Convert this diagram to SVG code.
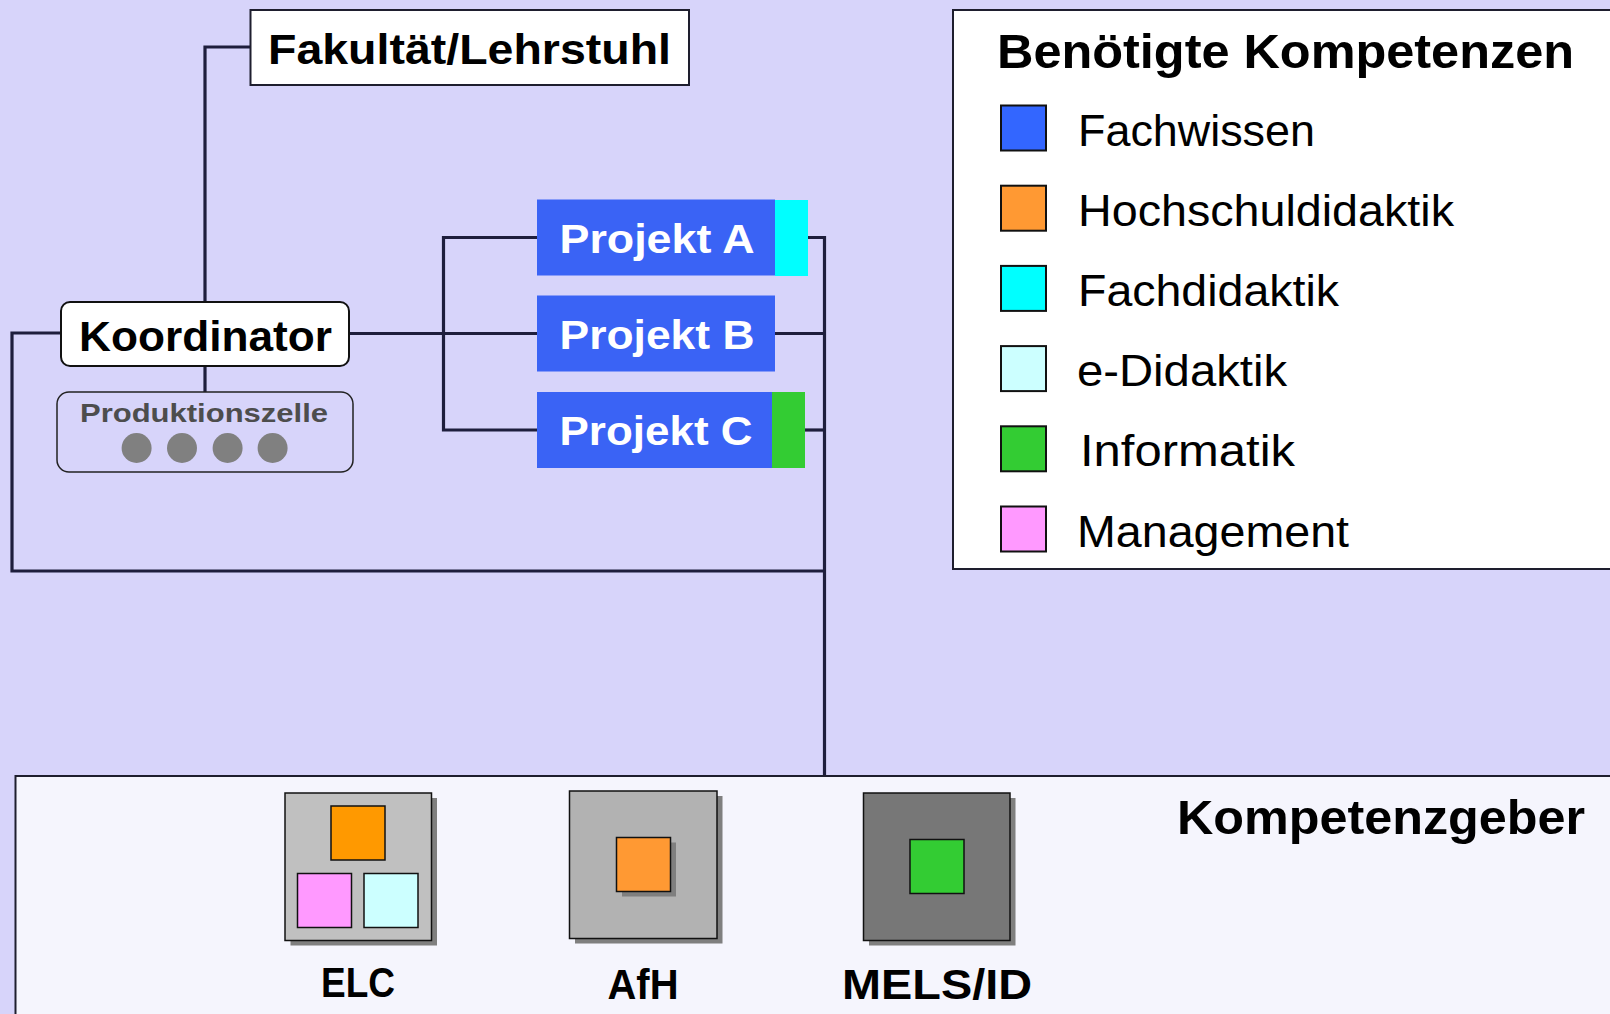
<svg xmlns="http://www.w3.org/2000/svg" width="1610" height="1014" viewBox="0 0 1610 1014">
<defs>
<style>
.bold{font-family:"Liberation Sans",Arial,sans-serif;font-weight:bold;}
.reg{font-family:"Liberation Sans",Arial,sans-serif;}
.conn{fill:none;stroke:#1E1E3C;stroke-width:3.2;}
.proj{fill:#3A63F5;}
.projtxt{fill:#FFFFFF;font-size:41px;}
.sw{stroke:#111;stroke-width:2;}
.lbl{font-size:45px;fill:#000;}
.shadow{fill:#7F7F7F;}
</style>
</defs>
<rect x="0" y="0" width="1610" height="1014" fill="#D7D4FA"/>

<g id="connectors">
<path class="conn" d="M205,302 V47 H251"/>
<path class="conn" d="M205,366 V392"/>
<path class="conn" d="M61,333 H12 V571 H825"/>
<path class="conn" d="M349,333.5 H537"/>
<path class="conn" d="M537,237.5 H443.5 V430 H537"/>
<path class="conn" d="M807,237.5 H824.5 V776"/>
<path class="conn" d="M775,333.5 H824.5"/>
<path class="conn" d="M805,430 H824.5"/>
</g>

<g id="fakultaet">
<rect x="250.5" y="10" width="438.5" height="75" fill="#FFFFFF" stroke="#1E1E2E" stroke-width="2"/>
<text class="bold" x="268" y="64" font-size="43" textLength="403" lengthAdjust="spacingAndGlyphs">Fakultät/Lehrstuhl</text>
</g>

<g id="koordinator">
<rect x="61" y="302" width="288" height="64" rx="9" fill="#FFFFFF" stroke="#111" stroke-width="2"/>
<text class="bold" x="79" y="351" font-size="42" textLength="253" lengthAdjust="spacingAndGlyphs">Koordinator</text>
</g>

<g id="produktionszelle">
<rect x="57" y="392" width="296" height="80" rx="12" fill="#D7D4FA" stroke="#222" stroke-width="1.5"/>
<text class="bold" x="80" y="422" font-size="26" fill="#4D4D4D" textLength="248" lengthAdjust="spacingAndGlyphs">Produktionszelle</text>
<circle cx="136.6" cy="448" r="15" fill="#808080"/>
<circle cx="182" cy="448" r="15" fill="#808080"/>
<circle cx="227.6" cy="448" r="15" fill="#808080"/>
<circle cx="272.6" cy="448" r="15" fill="#808080"/>
</g>

<g id="projektA">
<rect class="proj" x="537" y="199.5" width="238" height="76"/>
<rect x="775" y="200" width="33" height="76" fill="#00FFFF"/>
<text class="bold projtxt" x="559.5" y="252.5" textLength="195" lengthAdjust="spacingAndGlyphs">Projekt A</text>
</g>

<g id="projektB">
<rect class="proj" x="537" y="295.5" width="238" height="76"/>
<text class="bold projtxt" x="559.5" y="348.5" textLength="195" lengthAdjust="spacingAndGlyphs">Projekt B</text>
</g>

<g id="projektC">
<rect class="proj" x="537" y="392" width="238" height="76"/>
<rect x="772" y="392" width="33" height="76" fill="#33CC33"/>
<text class="bold projtxt" x="559.5" y="445" textLength="193" lengthAdjust="spacingAndGlyphs">Projekt C</text>
</g>

<g id="legende">
<rect x="953" y="10" width="700" height="559" fill="#FFFFFF" stroke="#1E1E2E" stroke-width="2"/>
<text class="bold" x="997" y="68" font-size="48" textLength="577" lengthAdjust="spacingAndGlyphs">Benötigte Kompetenzen</text>
<rect class="sw" x="1001" y="105.5" width="45" height="45" fill="#3366FF"/>
<text class="reg lbl" x="1078" y="145.5" textLength="237" lengthAdjust="spacingAndGlyphs">Fachwissen</text>
<rect class="sw" x="1001" y="185.7" width="45" height="45" fill="#FF9933"/>
<text class="reg lbl" x="1078" y="225.7" textLength="376" lengthAdjust="spacingAndGlyphs">Hochschuldidaktik</text>
<rect class="sw" x="1001" y="265.9" width="45" height="45" fill="#00FFFF"/>
<text class="reg lbl" x="1078" y="305.9" textLength="261" lengthAdjust="spacingAndGlyphs">Fachdidaktik</text>
<rect class="sw" x="1001" y="346.1" width="45" height="45" fill="#CCFFFF"/>
<text class="reg lbl" x="1077" y="386.1" textLength="210" lengthAdjust="spacingAndGlyphs">e-Didaktik</text>
<rect class="sw" x="1001" y="426.3" width="45" height="45" fill="#33CC33"/>
<text class="reg lbl" x="1080" y="466.3" textLength="215" lengthAdjust="spacingAndGlyphs">Informatik</text>
<rect class="sw" x="1001" y="506.5" width="45" height="45" fill="#FF99FF"/>
<text class="reg lbl" x="1077" y="546.5" textLength="272" lengthAdjust="spacingAndGlyphs">Management</text>
</g>

<g id="kompetenzgeber">
<rect x="15.5" y="776" width="1640" height="260" fill="#F5F5FD" stroke="#1E1E2E" stroke-width="2"/>
<text class="bold" x="1177" y="834" font-size="49" textLength="408" lengthAdjust="spacingAndGlyphs">Kompetenzgeber</text>
</g>

<g id="elc">
<rect class="shadow" x="290.5" y="798" width="146.5" height="147.5"/>
<rect x="285" y="793" width="146.5" height="147.5" fill="#C0C0C0" stroke="#111" stroke-width="1.5"/>
<rect x="331" y="806" width="54" height="54" fill="#FF9900" stroke="#111" stroke-width="1.5"/>
<rect x="297.5" y="873.5" width="54" height="54" fill="#FF99FF" stroke="#111" stroke-width="1.5"/>
<rect x="364" y="873.5" width="54" height="54" fill="#CCFFFF" stroke="#111" stroke-width="1.5"/>
<text class="bold" x="358" y="997" font-size="42" text-anchor="middle" textLength="74" lengthAdjust="spacingAndGlyphs">ELC</text>
</g>

<g id="afh">
<rect class="shadow" x="575" y="796" width="147.5" height="147.5"/>
<rect x="569.5" y="791" width="147.5" height="147.5" fill="#B2B2B2" stroke="#111" stroke-width="1.5"/>
<rect class="shadow" x="622" y="842.5" width="54" height="54"/>
<rect x="616.5" y="837.5" width="54" height="54" fill="#FF9933" stroke="#111" stroke-width="1.5"/>
<text class="bold" x="643" y="999" font-size="42" text-anchor="middle" textLength="71" lengthAdjust="spacingAndGlyphs">AfH</text>
</g>

<g id="mels">
<rect class="shadow" x="869" y="798" width="146.5" height="147.5"/>
<rect x="863.5" y="793" width="146.5" height="147.5" fill="#777777" stroke="#111" stroke-width="1.5"/>
<rect x="910" y="839.5" width="54" height="54" fill="#33CC33" stroke="#111" stroke-width="1.5"/>
<text class="bold" x="937" y="999" font-size="42" text-anchor="middle" textLength="190" lengthAdjust="spacingAndGlyphs">MELS/ID</text>
</g>
</svg>
